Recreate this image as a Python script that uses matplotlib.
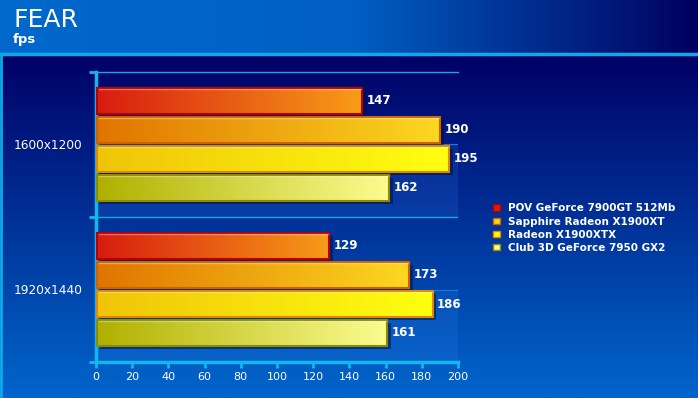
import numpy as np
import matplotlib
matplotlib.use("Agg")
import matplotlib.pyplot as plt
from matplotlib.colors import LinearSegmentedColormap
from matplotlib.patches import Rectangle, Patch

resolutions = ["1600x1200", "1920x1440"]
cards = ["POV GeForce 7900GT 512Mb", "Sapphire Radeon X1900XT",
         "Radeon X1900XTX", "Club 3D GeForce 7950 GX2"]
fps = {
    "POV GeForce 7900GT 512Mb": [147, 129],
    "Sapphire Radeon X1900XT": [190, 173],
    "Radeon X1900XTX": [195, 186],
    "Club 3D GeForce 7950 GX2": [162, 161],
}
x_ticks = list(range(0, 201, 20))

# left colour, right colour, edge colour for each card
bar_colors = [("#d81c10", "#f89c18", "#b80000"),
              ("#e07400", "#fcd820", "#d06000"),
              ("#f0c408", "#ffff10", "#e08800"),
              ("#b0b000", "#fcfc90", "#8c8c00")]

W, H = 698, 398
fig = plt.figure(figsize=(W / 100, H / 100), dpi=100)

# background
bg = fig.add_axes([0, 0, 1, 1])
bg.set_xlim(0, W)
bg.set_ylim(H, 0)
bg.axis("off")
head = LinearSegmentedColormap.from_list("head", ["#0068cc", "#0060c4", "#000060"])
body = LinearSegmentedColormap.from_list("body", ["#000066", "#0066cc"])
bg.imshow(np.linspace(0, 1, 256)[None, :], cmap=head, extent=[0, W, 53, 0], aspect="auto")
bg.imshow(np.linspace(0, 1, 256)[:, None], cmap=body, extent=[0, W, H, 54], aspect="auto")
bg.plot([0, W], [54, 54], color="#10a8e8", lw=2.5)
bg.plot([1, 1], [54, H], color="#10a8e8", lw=2)

fig.text(13 / W, 1 - 20 / H, "FEAR", color="white", fontsize=18, va="center", ha="left")
fig.text(13 / W, 1 - 40 / H, "fps", color="white", fontsize=9.5, fontweight="bold",
         va="center", ha="left")

ax = fig.add_axes([96 / W, (H - 362) / H, 362 / W, 290 / H])
ax.patch.set_alpha(0)

offsets = [-0.3, -0.1, 0.1, 0.3]
bh = 0.178
grad = np.linspace(0, 1, 256)[None, :]
for g in range(len(resolutions)):
    c = g + 0.5
    ax.add_patch(Rectangle((0, c), 200, 0.5, facecolor="#3a8cff", alpha=0.15,
                           edgecolor="none", zorder=1))
    ax.plot([0, 200], [c, c], color="#1a7ad8", lw=0.8, zorder=1)
    ax.plot([200, 200], [c, c + 0.5], color="#1a7ad8", lw=0.8, zorder=1)
    for i, card in enumerate(cards):
        v = fps[card][g]
        y0 = c + offsets[i] - bh / 2
        lc, rc, ec = bar_colors[i]
        cmap = LinearSegmentedColormap.from_list(card, [lc, rc])
        ax.add_patch(Rectangle((2, y0 + 0.018), v, bh, facecolor="#001040",
                               alpha=0.55, edgecolor="none", zorder=2))
        ax.imshow(grad, cmap=cmap, extent=[0.8, v, y0 + bh, y0], aspect="auto", zorder=3)
        ax.add_patch(Rectangle((0.8, y0), v - 0.8, bh, facecolor="none", edgecolor=ec,
                               lw=1.5, zorder=4))
        ax.plot([1.4, v - 0.6], [y0 + 0.008, y0 + 0.008], color="white", alpha=0.35,
                lw=1, zorder=4)
        ax.text(v + 2.5, c + offsets[i], str(v), color="white", fontsize=8.5,
                fontweight="bold", va="center", ha="left", zorder=5)

ax.set_xlim(0, 200)
ax.set_ylim(2, 0)
ax.set_xticks(x_ticks)
ax.set_xticklabels([str(t) for t in x_ticks], color="white", fontsize=8)
ax.set_yticks([0, 1, 2])
ax.set_yticklabels([])
ax.set_yticks([0.5, 1.5], minor=True)
ax.set_yticklabels(resolutions, minor=True, color="white", fontsize=8.7)
ax.tick_params(axis="y", which="minor", length=0, pad=10)
ax.tick_params(axis="y", which="major", length=5, width=2, color="#10b8f0")
ax.tick_params(axis="x", length=4, width=2, color="#10b8f0", pad=3)
for s in ["left", "bottom"]:
    ax.spines[s].set_color("#10b8f0")
    ax.spines[s].set_linewidth(2.5)
ax.spines["top"].set_color("#10a8e8")
ax.spines["top"].set_linewidth(1)
ax.spines["right"].set_visible(False)
ax.axhline(1, color="#10a8e8", lw=1, zorder=1)

handles = [Patch(facecolor=(lc if i == 0 else rc), edgecolor=ec)
           for i, (lc, rc, ec) in enumerate(bar_colors)]
leg = fig.legend(handles, cards, loc="upper left",
                 bbox_to_anchor=(484 / W, 1 - 194 / H), frameon=False,
                 handlelength=0.6, handleheight=0.6, handletextpad=0.8,
                 labelspacing=0.3, prop={"size": 7.5, "weight": "bold"})
for t in leg.get_texts():
    t.set_color("white")

fig.savefig("out.png", dpi=100)
